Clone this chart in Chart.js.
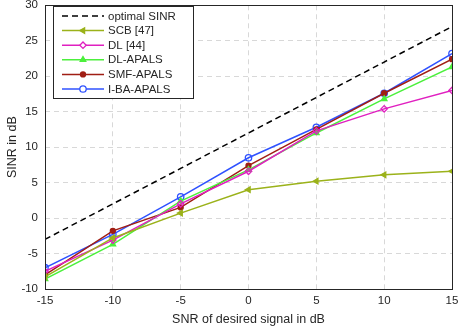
<!DOCTYPE html>
<html>
<head>
<meta charset="utf-8">
<script src="https://cdn.jsdelivr.net/npm/chart.js@4/dist/chart.umd.min.js"></script>
<style>
  html, body { margin: 0; padding: 0; background: #fff; }
  #wrap { width: 458px; height: 327px; position: relative; }
</style>
</head>
<body>
<div id="wrap"><canvas id="chart"></canvas></div>
<script>
// Data
const snr = [-15, -10, -5, 0, 5, 10, 15];
const optimalSinr = [-3, 2, 7, 12, 17, 22, 27];
const scb = [-8.3, -2.8, 0.7, 4.0, 5.2, 6.1, 6.6];
const dl = [-7.5, -3.1, 2.0, 6.6, 12.3, 15.4, 18.0];
const dlApals = [-8.6, -3.7, 2.4, 6.8, 12.0, 16.8, 21.3];
const smfApals = [-8.0, -1.8, 1.5, 7.4, 12.5, 17.6, 22.4];
const ibaApals = [-7.0, -2.3, 3.0, 8.5, 12.8, 17.6, 23.2];

const xTicks = [-15, -10, -5, 0, 5, 10, 15];
const yTicks = [-10, -5, 0, 5, 10, 15, 20, 25, 30];

const font = '"Liberation Sans", Arial, sans-serif';
const textColor = '#262626';

function pts(values) {
  return snr.map((x, i) => ({ x: x, y: values[i] }));
}

// Series setup
const series = [
  { label: 'optimal SINR', data: optimalSinr, color: '#000000', dash: [6, 4], point: false },
  { label: 'SCB [47]', data: scb, color: '#9bb21a', point: 'triangle', rot: -90, fill: true },
  { label: 'DL [44]', data: dl, color: '#e020c0', point: 'rectRot', fill: false },
  { label: 'DL-APALS', data: dlApals, color: '#4cf03c', point: 'triangle', rot: 0, fill: true },
  { label: 'SMF-APALS', data: smfApals, color: '#a01e14', point: 'circle', fill: true, r: 2.5 },
  { label: 'I-BA-APALS', data: ibaApals, color: '#2f52ff', point: 'circle', fill: false }
];

const datasets = series.map(s => ({
  label: s.label,
  data: pts(s.data),
  borderColor: s.color,
  backgroundColor: s.fill ? s.color : 'rgba(255,255,255,0)',
  borderWidth: 1.5,
  borderDash: s.dash || [],
  pointStyle: s.point || 'circle',
  pointRotation: s.rot || 0,
  pointRadius: s.point ? (s.r || 3.2) : 0,
  pointBorderWidth: 1.3,
  pointBorderColor: s.color,
  pointBackgroundColor: s.fill ? s.color : 'rgba(255,255,255,0)',
  tension: 0
}));

// Box around plot + legend inside
const boxLegend = {
  id: 'boxLegend',
  afterDatasetsDraw(chart) {
    const ctx = chart.ctx;
    const a = chart.chartArea;
    ctx.save();
    ctx.strokeStyle = '#262626';
    ctx.lineWidth = 1;
    ctx.setLineDash([]);
    ctx.strokeRect(Math.round(a.left) + 0.5, Math.round(a.top) + 0.5,
      Math.round(a.right - a.left), Math.round(a.bottom - a.top));

    // legend
    const lx = 53, ly = 6, lw = 140, lh = 92;
    ctx.fillStyle = '#fff';
    ctx.fillRect(lx, ly, lw, lh);
    ctx.strokeStyle = '#262626';
    ctx.strokeRect(lx + 0.5, ly + 0.5, lw, lh);
    ctx.font = '11.5px ' + font;
    ctx.textBaseline = 'middle';
    series.forEach((s, i) => {
      const y = ly + 10 + i * 14.6;
      ctx.strokeStyle = s.color;
      ctx.lineWidth = 1.5;
      ctx.setLineDash(s.dash || []);
      ctx.beginPath();
      ctx.moveTo(62, y);
      ctx.lineTo(104, y);
      ctx.stroke();
      ctx.setLineDash([]);
      if (s.point) {
        ctx.fillStyle = s.fill ? s.color : '#fff';
        ctx.lineWidth = 1.3;
        Chart.helpers.drawPoint(ctx, {
          pointStyle: s.point,
          rotation: s.rot || 0,
          radius: s.r || 3.2,
          borderWidth: 1.3
        }, 83, y);
        if (s.fill) ctx.fill();
      }
      ctx.fillStyle = textColor;
      ctx.fillText(s.label, 108, y + 0.5);
    });
    ctx.restore();
  }
};

new Chart(document.getElementById('chart'), {
  type: 'line',
  data: { datasets: datasets },
  options: {
    responsive: true,
    maintainAspectRatio: false,
    animation: false,
    layout: { padding: { top: 5, right: 6, left: 0, bottom: 0 } },
    plugins: {
      legend: { display: false },
      tooltip: { enabled: false }
    },
    scales: {
      x: {
        type: 'linear',
        min: -15,
        max: 15,
        afterBuildTicks: s => { s.ticks = xTicks.map(v => ({ value: v })); },
        afterFit: s => { s.height = 38; s.paddingLeft = 0; s.paddingRight = 0; },
        grid: { color: '#d8d8d8', drawTicks: false, lineWidth: 1 },
        border: { display: false, dash: [5, 4] },
        ticks: { color: textColor, font: { family: font, size: 11.5 }, padding: 5, maxRotation: 0 },
        title: { display: true, text: 'SNR of desired signal in dB', color: textColor,
          font: { family: font, size: 12.5 }, padding: { top: 1, bottom: 0 } }
      },
      y: {
        min: -10,
        max: 30,
        afterBuildTicks: s => { s.ticks = yTicks.map(v => ({ value: v })); },
        afterFit: s => { s.width = 45; s.paddingTop = 0; s.paddingBottom = 0; },
        grid: { color: '#d8d8d8', drawTicks: false, lineWidth: 1 },
        border: { display: false, dash: [5, 4] },
        ticks: { color: textColor, font: { family: font, size: 11.5 }, padding: 7 },
        title: { display: true, text: 'SINR in dB', color: textColor,
          font: { family: font, size: 12.5 }, padding: { top: 5, bottom: 0 } }
      }
    }
  },
  plugins: [boxLegend]
});
</script>
</body>
</html>
